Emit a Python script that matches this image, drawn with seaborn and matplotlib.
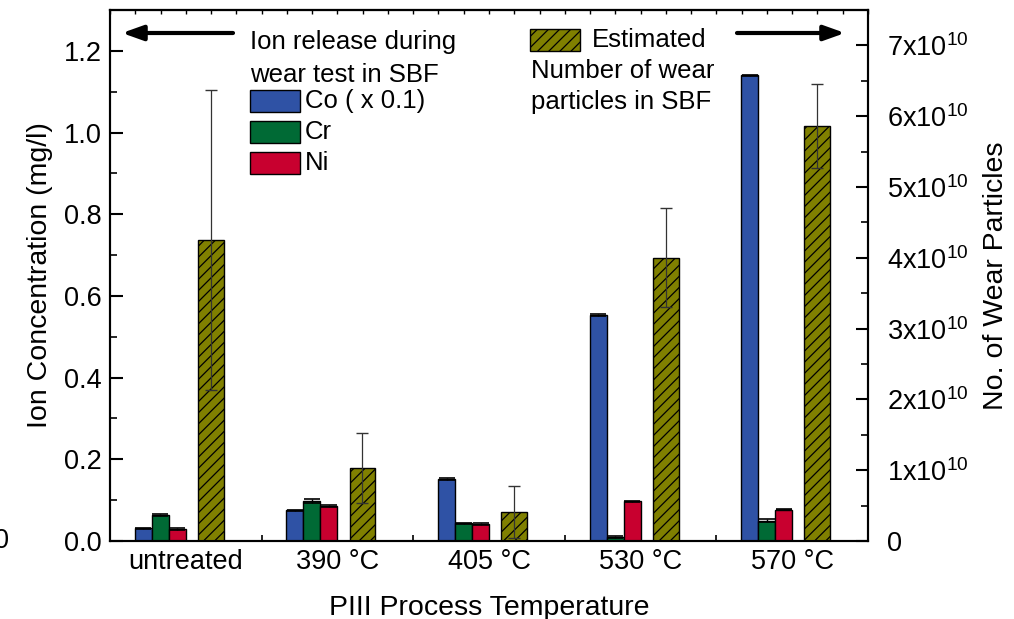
import numpy as np
import pandas as pd
import matplotlib
matplotlib.use("Agg")
import matplotlib.pyplot as plt
from matplotlib.patches import Rectangle
from matplotlib.ticker import MultipleLocator, FixedLocator, FixedFormatter, FormatStrFormatter
import seaborn as sns

# ---------------- data ----------------
categories = ["untreated", "390 °C", "405 °C", "530 °C", "570 °C"]
co_vals = [0.031, 0.075, 0.152, 0.553, 1.14]      # Co (x 0.1), mg/l
cr_vals = [0.064, 0.097, 0.043, 0.010, 0.050]
ni_vals = [0.030, 0.085, 0.042, 0.097, 0.077]
co_err = [0.002, 0.002, 0.002, 0.002, 0.002]
cr_err = [0.003, 0.005, 0.002, 0.003, 0.004]
ni_err = [0.002, 0.002, 0.002, 0.002, 0.002]
particles = [4.25e10, 1.03e10, 0.41e10, 4.0e10, 5.86e10]
particles_err = [2.12e10, 0.50e10, 0.37e10, 0.70e10, 0.59e10]
ion_names = ["Co ( x 0.1)", "Cr", "Ni"]
right_tick_labels = ["0", "1x10$^{10}$", "2x10$^{10}$", "3x10$^{10}$", "4x10$^{10}$",
                     "5x10$^{10}$", "6x10$^{10}$", "7x10$^{10}$"]

# ---------------- style ----------------
sns.set_theme(style="ticks")
plt.rcParams["font.family"] = ["Liberation Sans", "DejaVu Sans"]
plt.rcParams["mathtext.fontset"] = "custom"
plt.rcParams["mathtext.rm"] = "Liberation Sans"
plt.rcParams["hatch.linewidth"] = 0.9
plt.rcParams["axes.linewidth"] = 1.5
for key in ["text.color", "axes.labelcolor", "xtick.color", "ytick.color", "axes.edgecolor"]:
    plt.rcParams[key] = "black"

c_co, c_cr, c_ni, c_olive = "#2F52A5", "#006A35", "#C8002F", "#808000"

W, H = 1014, 619
fig = plt.figure(figsize=(W / 100, H / 100), dpi=100)
L, R, T, B = 110, 868, 10, 541
ax = fig.add_axes([L / W, 1 - B / H, (R - L) / W, (B - T) / H])
ax2 = ax.twinx()

idx = np.arange(len(categories))
ion_off = -0.168
ion_w = 0.112
olive_off = 0.165
olive_w = 0.17

df_ion = pd.DataFrame({
    "x": np.concatenate([idx + ion_off] * 3),
    "value": co_vals + cr_vals + ni_vals,
    "ion": np.repeat(ion_names, len(categories)),
})
sns.barplot(data=df_ion, x="x", y="value", hue="ion", hue_order=ion_names,
            palette=[c_co, c_cr, c_ni], native_scale=True, width=3 * ion_w,
            dodge=True, saturation=1, edgecolor="black", linewidth=1.0,
            errorbar=None, legend=False, ax=ax)

for k, (vals, errs) in enumerate([(co_vals, co_err), (cr_vals, cr_err), (ni_vals, ni_err)]):
    ax.errorbar(idx + ion_off + (k - 1) * ion_w, vals, yerr=errs, fmt="none",
                ecolor="black", elinewidth=1.0, capsize=5.5, capthick=1.2, zorder=5)

df_p = pd.DataFrame({"x": idx + olive_off, "value": particles})
sns.barplot(data=df_p, x="x", y="value", native_scale=True, width=olive_w,
            color=c_olive, saturation=1, edgecolor="black", linewidth=1.0,
            errorbar=None, ax=ax2)
for p in ax2.patches:
    p.set_hatch("///")
ax2.errorbar(idx + olive_off, particles, yerr=particles_err, fmt="none",
             ecolor="#333333", elinewidth=0.9, capsize=4, capthick=1.0, zorder=5)

# ---------------- axes ----------------
ax.set_xlim(-0.5, len(categories) - 0.5)
ax.set_ylim(0, 1.3)
ax2.set_ylim(0, 7.5e10)

ax.xaxis.set_major_locator(FixedLocator(idx[:-1] + 0.5))
ax.xaxis.set_major_formatter(FixedFormatter([""] * (len(categories) - 1)))
ax.xaxis.set_minor_locator(FixedLocator(idx))
ax.xaxis.set_minor_formatter(FixedFormatter(categories))
ax.tick_params(axis="x", which="major", direction="in", length=4, width=1.2, bottom=True, top=False)
ax.tick_params(axis="x", which="minor", length=0, labelsize=19.5, pad=6, labelcolor="black")

sec = ax.secondary_xaxis("top")
sec.set_xticks(np.arange(-0.5, len(categories) - 0.5 + 1e-6, 1 / 6))
sec.tick_params(direction="in", length=3, width=1.0, labeltop=False)
sec.spines["top"].set_linewidth(1.5)

ax.yaxis.set_major_locator(MultipleLocator(0.2))
ax.yaxis.set_minor_locator(MultipleLocator(0.1))
ax.yaxis.set_major_formatter(FormatStrFormatter("%.1f"))
ax.tick_params(axis="y", which="major", direction="in", length=9, width=1.5, labelsize=19.5, pad=6)
ax.tick_params(axis="y", which="minor", direction="in", length=5, width=1.2)

ax2.yaxis.set_major_locator(FixedLocator(np.arange(0, 8) * 1e10))
ax2.yaxis.set_major_formatter(FixedFormatter(right_tick_labels))
ax2.yaxis.set_minor_locator(MultipleLocator(0.5e10))
ax2.tick_params(axis="y", which="major", direction="in", length=9, width=1.5, labelsize=19.5, pad=14)
ax2.tick_params(axis="y", which="minor", direction="in", length=5, width=1.2)

for a in (ax, ax2):
    for s in a.spines.values():
        s.set_visible(True)
        s.set_linewidth(1.5)
        s.set_color("black")

ax.set_xlabel("PIII Process Temperature", fontsize=20.5, labelpad=14)
ax.set_ylabel("Ion Concentration (mg/l)", fontsize=20.5, labelpad=8)
ax2.set_ylabel("No. of Wear Particles", fontsize=20.5, labelpad=10)

# ---------------- legend / annotations ----------------
def axf(px, py):
    return ((px - L) / (R - L), (B - py) / (B - T))

fs = 18.5
ax2.text(*axf(250, 42), "Ion release during", transform=ax2.transAxes, fontsize=fs, va="center", ha="left")
ax2.text(*axf(250, 75), "wear test in SBF", transform=ax2.transAxes, fontsize=fs, va="center", ha="left")
for name, col, py in zip(ion_names, [c_co, c_cr, c_ni], [101, 132, 163]):
    x0, y0 = axf(250, py + 11)
    x1, y1 = axf(300, py - 11)
    ax2.add_patch(Rectangle((x0, y0), x1 - x0, y1 - y0, transform=ax2.transAxes,
                            facecolor=col, edgecolor="black", lw=1.0, clip_on=False))
    ax2.text(*axf(305, py), name, transform=ax2.transAxes, fontsize=fs, va="center", ha="left")

x0, y0 = axf(530, 51)
x1, y1 = axf(580, 29)
ax2.add_patch(Rectangle((x0, y0), x1 - x0, y1 - y0, transform=ax2.transAxes,
                        facecolor=c_olive, edgecolor="black", lw=1.0, hatch="///", clip_on=False))
ax2.text(*axf(592, 40), "Estimated", transform=ax2.transAxes, fontsize=fs, va="center", ha="left")
ax2.text(*axf(531, 71), "Number of wear", transform=ax2.transAxes, fontsize=fs, va="center", ha="left")
ax2.text(*axf(531, 102), "particles in SBF", transform=ax2.transAxes, fontsize=fs, va="center", ha="left")

arrow_kw = dict(arrowstyle="-|>,head_length=0.7,head_width=0.25", lw=3.0, color="black",
                shrinkA=0, shrinkB=0, mutation_scale=18)
ax2.annotate("", xy=axf(122, 33), xytext=axf(233, 33), xycoords="axes fraction",
             textcoords="axes fraction", arrowprops=arrow_kw)
ax2.annotate("", xy=axf(845, 33), xytext=axf(737, 33), xycoords="axes fraction",
             textcoords="axes fraction", arrowprops=arrow_kw)

# partially visible "0" at the far left edge (as in the reference)
fig.text(9 / W, 1 - 541 / H, "0", fontsize=19.5, ha="right", va="center")

fig.savefig("out.png", dpi=100)
